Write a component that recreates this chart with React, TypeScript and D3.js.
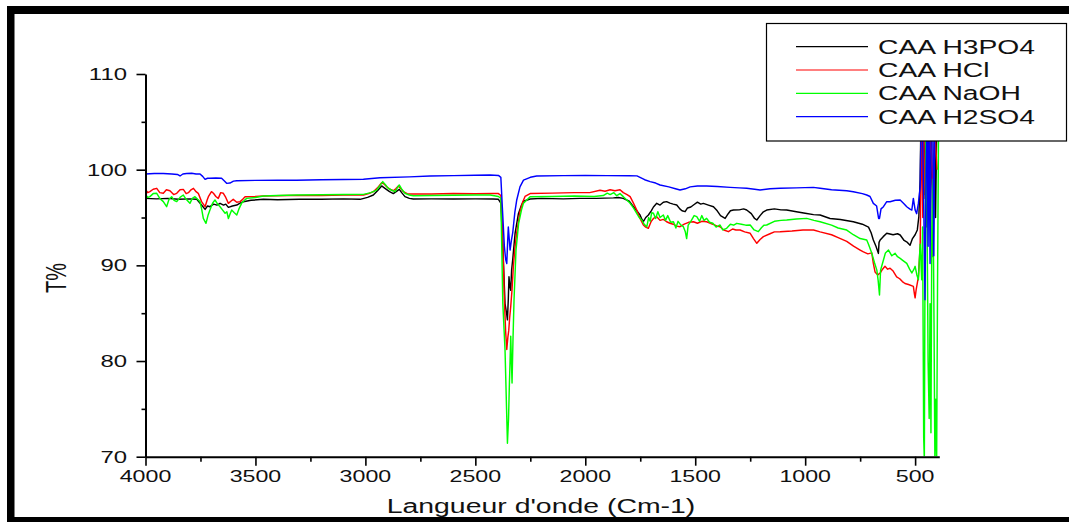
import React, { useRef, useEffect } from "react";
import * as d3 from "d3";

type Pt = [number, number];

const seriesNames = ["CAA H3PO4", "CAA HCl", "CAA NaOH", "CAA H2SO4"];
const seriesColors = ["#000000", "#ff0000", "#00ff00", "#0000ff"];

const xTicks = [4000, 3500, 3000, 2500, 2000, 1500, 1000, 500];
const xMinorTicks = [3750, 3250, 2750, 2250, 1750, 1250, 750];
const yTicks = [70, 80, 90, 100, 110];
const yMinorTicks = [75, 85, 95, 105];

// wavenumber (cm-1), T%
const h3po4: Pt[] = [
  [4000, 97.0], [3950, 96.95], [3900, 97.0], [3850, 96.9], [3800, 96.95], [3767, 96.9], [3745, 96.3],
  [3729, 95.85], [3718, 96.2], [3707, 96.13], [3690, 96.4], [3675, 96.3], [3661, 96.48], [3645, 96.3],
  [3635, 96.4], [3623, 96.06], [3605, 96.2], [3585, 96.3], [3570, 96.5], [3555, 96.65], [3520, 96.8],
  [3464, 96.9], [3400, 96.85], [3300, 96.9], [3200, 96.9], [3100, 96.95], [3024, 96.9], [2990, 97.1],
  [2964, 97.35], [2945, 97.8], [2926, 98.3], [2911, 98.05], [2890, 97.7], [2873, 97.5], [2860, 97.7],
  [2846, 97.94], [2835, 97.6], [2820, 97.18], [2800, 97.0], [2782, 96.93], [2700, 96.95], [2600, 96.93],
  [2500, 96.95], [2420, 96.94], [2395, 96.9], [2384, 96.5], [2375, 92], [2365, 86.0], [2358, 85.0],
  [2354, 84.3], [2350, 86.5], [2347, 88.8], [2343, 87.8], [2339, 87.4], [2335, 89.5], [2330, 90.6],
  [2319, 93.4], [2304, 95.4], [2290, 96.3], [2281, 96.7], [2251, 96.94], [2200, 97.0], [2100, 96.95],
  [2024, 97.0], [1950, 97.0], [1872, 97.05], [1850, 97.1], [1827, 97.0], [1800, 96.7], [1781, 96.13],
  [1766, 95.7], [1751, 95.26], [1742, 94.8], [1736, 94.56], [1725, 95.0], [1713, 95.26], [1700, 95.7],
  [1690, 96.1], [1675, 96.48], [1660, 96.3], [1645, 96.6], [1630, 96.66], [1615, 96.5], [1600, 96.4],
  [1584, 96.31], [1570, 95.9], [1560, 95.7], [1546, 95.61], [1535, 96.0], [1520, 96.1], [1508, 96.31],
  [1490, 96.6], [1475, 96.4], [1463, 96.48], [1440, 96.3], [1417, 96.13], [1400, 95.7], [1385, 95.2],
  [1364, 94.91], [1350, 95.4], [1340, 95.7], [1326, 95.78], [1300, 95.8], [1280, 95.9], [1266, 95.78],
  [1245, 95.4], [1230, 94.9], [1220, 94.74], [1205, 95.2], [1190, 95.6], [1175, 95.78], [1140, 95.9],
  [1110, 95.8], [1084, 95.78], [1040, 95.6], [1000, 95.45], [962, 95.3], [932, 95.26], [887, 94.9],
  [840, 94.8], [781, 94.56], [740, 94.3], [712, 94.0], [700, 93.4], [690, 92.65], [678, 92.0],
  [667, 91.25], [664, 92.4], [659, 92.65], [645, 93.0], [629, 93.35], [600, 93.2], [580, 93.3],
  [568, 93.17], [550, 92.6], [535, 92.4], [523, 92.1], [512, 92.8], [500, 93.2], [490, 93.7],
  [483, 95.1], [477, 99], [473, 106], [468, 100], [463, 106], [458, 97.4], [452, 104], [446, 94],
  [440, 105], [432, 97], [426, 104], [418, 90.9], [412, 104], [407, 95], [402, 104],
];

const hcl: Pt[] = [
  [4000, 97.94], [3990, 97.6], [3980, 97.7], [3965, 97.95], [3949, 98.05], [3935, 97.6], [3919, 97.53],
  [3905, 97.9], [3889, 97.8], [3872, 97.4], [3858, 97.53], [3843, 97.9], [3828, 97.94], [3815, 97.5],
  [3805, 97.6], [3793, 97.9], [3782, 98.05], [3770, 97.7], [3760, 97.53], [3745, 96.66], [3729, 96.13],
  [3720, 96.8], [3714, 97.18], [3700, 97.7], [3691, 97.53], [3680, 97.2], [3669, 97.0], [3658, 97.6],
  [3646, 97.53], [3635, 97.1], [3623, 96.48], [3612, 96.7], [3601, 96.9], [3585, 96.6], [3570, 96.66],
  [3558, 96.9], [3547, 97.18], [3500, 97.2], [3464, 97.25], [3350, 97.3], [3200, 97.3], [3100, 97.35],
  [3009, 97.35], [2985, 97.5], [2964, 97.7], [2945, 98.1], [2926, 98.64], [2915, 98.5], [2903, 98.22],
  [2888, 97.95], [2873, 97.8], [2862, 98.0], [2850, 98.3], [2838, 98.0], [2827, 97.7], [2810, 97.5],
  [2797, 97.46], [2700, 97.45], [2600, 97.5], [2500, 97.48], [2420, 97.5], [2395, 97.5], [2384, 97.3],
  [2377, 94], [2368, 86.4], [2362, 83.0], [2357, 81.2], [2352, 82.5], [2348, 83.2], [2344, 84.5],
  [2339, 85.7], [2333, 87.5], [2327, 89.9], [2320, 91.8], [2312, 93.4], [2297, 95.6], [2285, 96.6],
  [2274, 97.2], [2251, 97.5], [2150, 97.55], [2050, 97.6], [1980, 97.6], [1933, 97.85], [1910, 97.75],
  [1887, 97.9], [1865, 97.8], [1842, 97.9], [1827, 97.6], [1810, 97.4], [1796, 97.18], [1781, 96.5],
  [1766, 95.78], [1751, 94.9], [1736, 94.22], [1725, 94.0], [1713, 93.87], [1700, 94.6], [1690, 94.9],
  [1675, 95.09], [1660, 94.7], [1645, 94.8], [1630, 94.56], [1615, 94.4], [1600, 94.3], [1584, 94.1],
  [1569, 94.04], [1550, 94.3], [1530, 94.5], [1508, 94.56], [1490, 94.4], [1470, 94.6], [1448, 94.56],
  [1420, 94.3], [1400, 94.1], [1387, 94.04], [1370, 93.7], [1349, 93.52], [1330, 93.8], [1315, 93.7],
  [1296, 93.69], [1275, 93.5], [1250, 93.35], [1235, 92.8], [1220, 92.3], [1205, 92.7], [1190, 93.0],
  [1160, 93.3], [1140, 93.5], [1114, 93.52], [1060, 93.6], [1010, 93.7], [962, 93.69], [932, 93.5],
  [880, 93.2], [850, 92.9], [811, 92.5], [780, 92.0], [750, 91.6], [735, 91.4], [715, 91.2],
  [697, 91.3], [690, 90.2], [682, 89.3], [670, 89.0], [659, 89.2], [648, 89.6], [637, 89.9],
  [625, 89.6], [614, 89.7], [600, 89.4], [584, 88.8], [570, 88.6], [558, 88.3], [546, 88.1],
  [530, 88.0], [508, 87.8], [503, 87.0], [500, 86.6], [495, 87.5], [485, 88.8], [477, 92], [470, 106],
  [465, 95], [461, 104], [455, 97], [448, 105], [440, 99], [430, 104], [420, 98], [410, 104], [400, 100],
];

const naoh: Pt[] = [
  [4000, 97.42], [3990, 97.1], [3980, 97.18], [3965, 97.5], [3949, 97.53], [3935, 97.0], [3919, 96.66],
  [3904, 96.13], [3893, 96.9], [3881, 97.18], [3870, 96.8], [3858, 96.66], [3843, 97.1], [3828, 97.35],
  [3815, 96.9], [3798, 96.48], [3787, 97.0], [3775, 97.18], [3763, 96.9], [3752, 96.66], [3744, 95.8],
  [3737, 94.9], [3725, 94.39], [3716, 95.2], [3707, 95.78], [3695, 96.5], [3684, 96.83], [3672, 96.4],
  [3661, 96.13], [3650, 95.8], [3638, 95.44], [3630, 95.6], [3623, 94.9], [3615, 95.4], [3608, 95.78],
  [3596, 95.5], [3585, 95.26], [3575, 95.9], [3563, 96.48], [3550, 96.8], [3540, 97.0], [3500, 97.1],
  [3464, 97.25], [3400, 97.3], [3312, 97.35], [3200, 97.38], [3100, 97.4], [3009, 97.42], [2975, 97.6],
  [2949, 97.87], [2935, 98.3], [2921, 98.75], [2908, 98.4], [2896, 98.05], [2880, 97.85], [2865, 97.7],
  [2855, 98.1], [2846, 98.4], [2833, 97.9], [2820, 97.53], [2800, 97.35], [2782, 97.28], [2700, 97.3],
  [2600, 97.33], [2500, 97.35], [2433, 97.35], [2395, 97.2], [2384, 97.0], [2375, 86.0], [2365, 81.2],
  [2358, 75], [2354, 71.4], [2349, 74], [2345, 77.7], [2342, 80], [2339, 82.6], [2336, 80], [2333, 77.7],
  [2329, 82], [2324, 86.4], [2315, 91.6], [2303, 94.4], [2290, 95.8], [2281, 96.5], [2251, 97.18],
  [2150, 97.2], [2050, 97.25], [1960, 97.2], [1918, 97.3], [1900, 97.55], [1887, 97.4], [1870, 97.6],
  [1857, 97.28], [1842, 97.5], [1827, 97.18], [1810, 96.8], [1796, 96.48], [1781, 96.0], [1766, 95.44],
  [1755, 95.0], [1743, 94.74], [1732, 94.3], [1720, 94.04], [1712, 95.0], [1705, 94.6], [1698, 95.5],
  [1690, 95.44], [1680, 94.9], [1670, 95.6], [1660, 95.0], [1645, 95.26], [1635, 94.7], [1625, 95.2],
  [1612, 94.5], [1599, 94.56], [1588, 93.9], [1578, 94.6], [1565, 94.2], [1554, 94.04], [1545, 93.5],
  [1539, 92.8], [1532, 94.2], [1520, 94.6], [1505, 95.2], [1493, 95.09], [1480, 94.6], [1470, 95.2],
  [1460, 94.7], [1448, 94.91], [1435, 94.5], [1420, 94.4], [1405, 94.0], [1387, 94.22], [1375, 93.7],
  [1357, 93.87], [1340, 94.3], [1325, 94.2], [1311, 94.39], [1290, 94.3], [1270, 94.2], [1250, 94.22],
  [1232, 93.7], [1213, 93.52], [1200, 93.9], [1188, 94.2], [1175, 94.22], [1140, 94.6], [1110, 94.7],
  [1084, 94.74], [1040, 94.85], [993, 94.91], [960, 94.7], [932, 94.56], [880, 94.2], [850, 93.9],
  [811, 93.69], [781, 93.2], [750, 92.8], [720, 92.65], [712, 92.2], [697, 91.26], [685, 90.3],
  [674, 89.5], [668, 88.4], [662, 86.9], [657, 89.5], [652, 89.9], [644, 90.56], [635, 91.3],
  [621, 91.6], [606, 91.0], [591, 91.26], [580, 90.9], [568, 90.73], [555, 90.5], [538, 90.2],
  [525, 89.6], [515, 89.2], [505, 89.6], [500, 89.9], [492, 89.0], [485, 88.5], [481, 90.5],
  [477, 92.2], [470, 88.5], [466, 94], [461, 72], [458, 69.6], [455, 90], [451, 106], [446, 96],
  [441, 80], [436, 74], [432, 86], [428, 72.5], [424, 94], [419, 99], [414, 84], [410, 69.6],
  [406, 76], [402, 69.6], [398, 88], [393, 106],
];

const h2so4: Pt[] = [
  [4000, 99.55], [3960, 99.6], [3919, 99.6], [3880, 99.55], [3855, 99.5], [3843, 99.34], [3830, 99.55],
  [3813, 99.6], [3790, 99.62], [3770, 99.55], [3752, 99.55], [3740, 99.3], [3729, 98.99], [3718, 99.1],
  [3707, 99.1], [3680, 99.12], [3654, 99.1], [3640, 98.8], [3631, 98.57], [3616, 98.6], [3600, 98.8],
  [3585, 98.85], [3500, 98.88], [3400, 98.9], [3313, 98.9], [3200, 98.95], [3100, 98.97], [3009, 99.0],
  [2933, 99.16], [2800, 99.25], [2706, 99.34], [2600, 99.38], [2500, 99.42], [2433, 99.44], [2395, 99.4],
  [2384, 99.2], [2377, 96], [2368, 92], [2362, 90.6], [2357, 90.2], [2353, 92.5], [2350, 94.0],
  [2346, 92.8], [2342, 91.6], [2336, 92.6], [2330, 93.4], [2320, 95.6], [2312, 96.8], [2297, 98.2],
  [2281, 98.9], [2250, 99.2], [2221, 99.34], [2100, 99.38], [2000, 99.4], [1900, 99.38], [1800, 99.37],
  [1765, 99.35], [1751, 99.2], [1730, 98.95], [1705, 98.75], [1680, 98.6], [1660, 98.4], [1620, 98.2],
  [1590, 98.0], [1569, 97.87], [1545, 98.0], [1523, 98.2], [1490, 98.3], [1448, 98.3], [1400, 98.25],
  [1341, 98.15], [1300, 98.1], [1266, 98.05], [1230, 97.95], [1205, 97.87], [1160, 98.0], [1114, 98.05],
  [1040, 98.1], [963, 98.15], [932, 98.05], [880, 97.9], [811, 97.8], [781, 97.7], [740, 97.5],
  [720, 97.35], [705, 97.2], [690, 96.48], [675, 96.2], [666, 94.9], [662, 94.9], [655, 95.9],
  [644, 96.13], [629, 96.66], [614, 96.65], [590, 96.8], [568, 96.83], [553, 96.5], [538, 96.13],
  [525, 95.9], [515, 95.78], [508, 97.0], [500, 95.8], [493, 95.4], [485, 96.5], [477, 98.2], [472, 106],
  [466, 104], [460, 95], [455, 86.4], [450, 100], [446, 106], [441, 92], [437, 106], [432, 90.2],
  [427, 104], [420, 106], [415, 91], [410, 106], [405, 104],
];

const allSeries = [h3po4, hcl, naoh, h2so4];

const W = 1069;
const H = 522;
const SX = 1.45; // the picture's text is stretched horizontally
const FONT = "'Liberation Sans', Arial, sans-serif";

const App = () => {
  const ref = useRef<SVGSVGElement>(null);

  useEffect(() => {
    const svg = d3.select(ref.current);
    svg.selectAll("*").remove();

    const x = d3.scaleLinear().domain([4000, 390]).range([145.5, 939.3]);
    const y = d3.scaleLinear().domain([70, 110]).range([456.7, 74]);

    svg.append("rect").attr("width", W).attr("height", H).attr("fill", "#fff");

    // outer frame
    svg.append("rect").attr("x", 7).attr("y", 6).attr("width", 7.5).attr("height", 516).attr("fill", "#000");
    svg.append("rect").attr("x", 7).attr("y", 6).attr("width", W - 7).attr("height", 8).attr("fill", "#000");
    svg.append("rect").attr("x", 7).attr("y", 517).attr("width", W - 7).attr("height", 5).attr("fill", "#000");

    // spectra
    svg.append("clipPath").attr("id", "plotclip")
      .append("rect").attr("x", 140).attr("y", 0).attr("width", 810).attr("height", y(70) - 0.5);

    const line = d3.line<Pt>().x((d) => x(d[0])).y((d) => y(d[1]));
    const g = svg.append("g").attr("clip-path", "url(#plotclip)");
    allSeries.forEach((s, i) => {
      g.append("path")
        .attr("d", line(s))
        .attr("fill", "none")
        .attr("stroke", seriesColors[i])
        .attr("stroke-width", 1.45)
        .attr("stroke-linejoin", "round");
    });

    // axes
    const xAxis = svg.append("g").attr("transform", `translate(0,${y(70)})`)
      .call(d3.axisBottom(x).tickValues(xTicks).tickSize(9).tickSizeOuter(0).tickFormat(() => ""));
    const xMinor = svg.append("g").attr("transform", `translate(0,${y(70)})`)
      .call(d3.axisBottom(x).tickValues(xMinorTicks).tickSize(5).tickFormat(() => ""));
    xMinor.select(".domain").remove();

    const yAxis = svg.append("g").attr("transform", `translate(${x(4000)},0)`)
      .call(d3.axisLeft(y).tickValues(yTicks).tickSize(9).tickSizeOuter(0).tickFormat(() => ""));
    const yMinor = svg.append("g").attr("transform", `translate(${x(4000)},0)`)
      .call(d3.axisLeft(y).tickValues(yMinorTicks).tickSize(4).tickFormat(() => ""));
    yMinor.select(".domain").remove();

    [xAxis, xMinor, yAxis, yMinor].forEach((a) => {
      a.select(".domain").attr("stroke", "#000").attr("stroke-width", 2);
      a.selectAll(".tick line").attr("stroke", "#000").attr("stroke-width", 1.6);
    });

    // tick labels
    xTicks.forEach((t) => {
      svg.append("text")
        .attr("transform", `translate(${x(t)},482) scale(${SX},1)`)
        .attr("text-anchor", "middle")
        .attr("font-family", FONT)
        .attr("font-size", 16)
        .attr("fill", "#111")
        .text(t);
    });
    yTicks.forEach((t) => {
      svg.append("text")
        .attr("transform", `translate(127,${y(t) + 6}) scale(${SX},1)`)
        .attr("text-anchor", "end")
        .attr("font-family", FONT)
        .attr("font-size", 16.5)
        .attr("fill", "#111")
        .text(t);
    });

    // axis titles
    svg.append("text")
      .attr("transform", `translate(541,512.5) scale(${SX},1)`)
      .attr("text-anchor", "middle")
      .attr("font-family", FONT)
      .attr("font-size", 19.6)
      .attr("fill", "#111")
      .text("Langueur d'onde (Cm-1)");
    svg.append("text")
      .attr("transform", `translate(66,278) scale(${SX},1) rotate(-90)`)
      .attr("text-anchor", "middle")
      .attr("font-family", FONT)
      .attr("font-size", 20)
      .attr("fill", "#111")
      .text("T%");

    // legend
    const leg = svg.append("g");
    leg.append("rect")
      .attr("x", 766.5).attr("y", 23.5).attr("width", 300).attr("height", 117.5)
      .attr("fill", "#fff").attr("stroke", "#000").attr("stroke-width", 1.2);
    seriesNames.forEach((name, i) => {
      const ry = 46.7 + i * 23.3;
      leg.append("line")
        .attr("x1", 796).attr("x2", 868).attr("y1", ry).attr("y2", ry)
        .attr("stroke", seriesColors[i]).attr("stroke-width", 1.2);
      leg.append("text")
        .attr("transform", `translate(878,${ry + 7}) scale(${SX},1)`)
        .attr("font-family", FONT)
        .attr("font-size", 19.5)
        .attr("fill", "#111")
        .text(name);
    });
  }, []);

  return (
    <svg
      ref={ref}
      width={W}
      height={H}
      style={{ position: "absolute", left: 0, top: 0, display: "block" }}
    />
  );
};

export default App;
